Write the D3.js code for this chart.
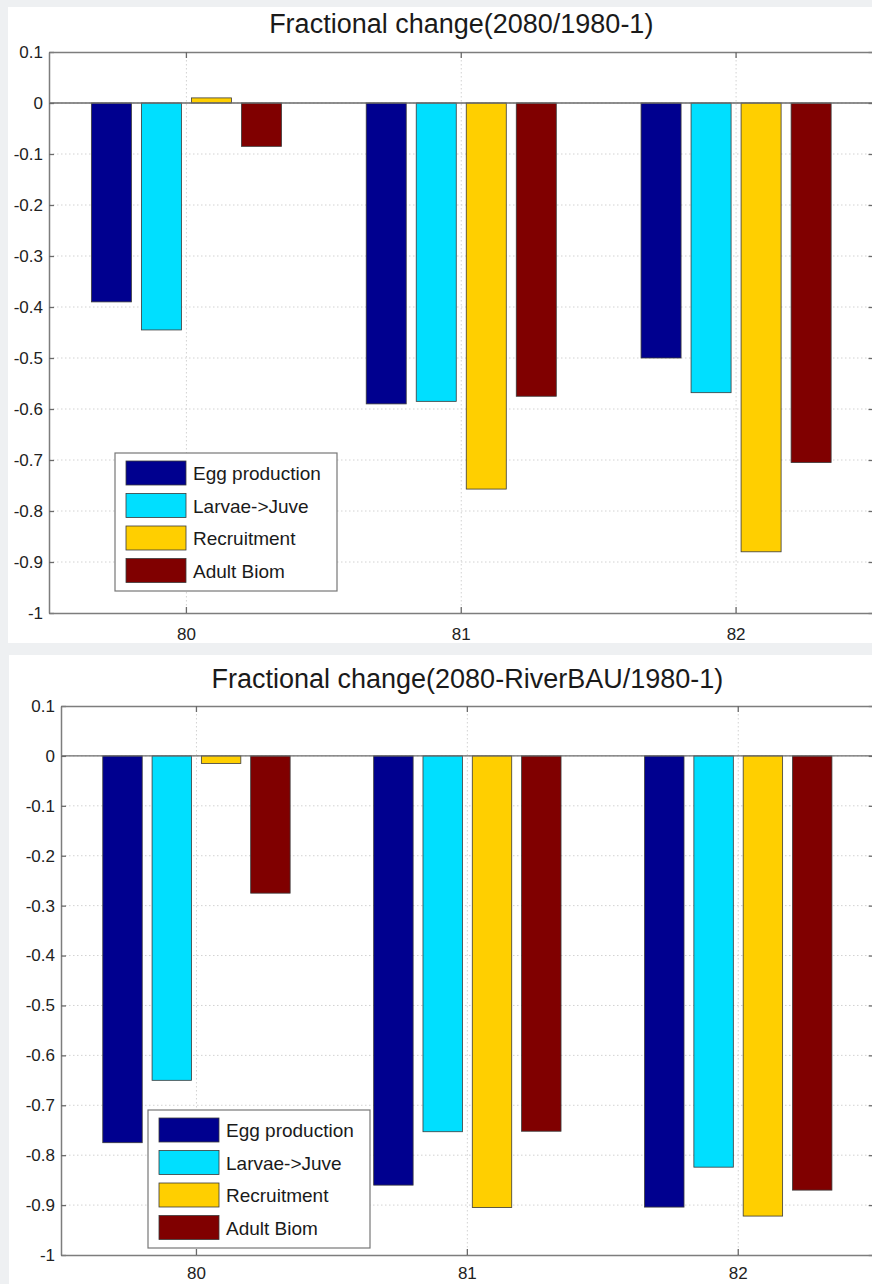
<!DOCTYPE html>
<html>
<head>
<meta charset="utf-8">
<script src="https://cdn.jsdelivr.net/npm/d3@7"></script>
<style>
  body { margin: 0; background: #eef0f2; }
  svg { display: block; font-family: "Liberation Sans", Arial, sans-serif; }
</style>
</head>
<body>
<div id="chart"></div>
<script>
// groups on the x axis and the four series
const groups = ["80", "81", "82"];
const series = ["Egg production", "Larvae->Juve", "Recruitment", "Adult Biom"];
const colors = ["#00008f", "#00dfff", "#ffcf00", "#800000"];
const yTicks = [0.1, 0, -0.1, -0.2, -0.3, -0.4, -0.5, -0.6, -0.7, -0.8, -0.9, -1];

// Fractional change(2080/1980-1)
const egg2080     = [-0.39,  -0.59,  -0.50];
const larvae2080  = [-0.445, -0.585, -0.568];
const recruit2080 = [ 0.01,  -0.757, -0.88];
const adult2080   = [-0.085, -0.575, -0.705];

// Fractional change(2080-RiverBAU/1980-1)
const eggBAU      = [-0.775, -0.86,  -0.904];
const larvaeBAU   = [-0.65,  -0.753, -0.824];
const recruitBAU  = [-0.015, -0.905, -0.922];
const adultBAU    = [-0.275, -0.752, -0.87];

const W = 872, H = 1284;
const svg = d3.select("#chart").append("svg")
  .attr("width", W).attr("height", H);

function drawPanel(o) {
  // white figure panel
  svg.append("rect")
    .attr("x", o.panel[0]).attr("y", o.panel[1])
    .attr("width", o.panel[2]).attr("height", o.panel[3])
    .attr("fill", "#fff");

  var g = svg.append("g");

  var y = d3.scaleLinear().domain([-1, 0.1]).range([o.bottom, o.top]);
  var x0 = d3.scaleBand().domain(groups).range([o.left, o.right]).padding(0);
  var bw = x0.bandwidth();
  var x1 = d3.scaleBand().domain(series)
    .range([-0.364 * bw, 0.364 * bw])
    .paddingInner(0.2).paddingOuter(0.1);

  // dotted grid
  g.append("g").selectAll("line.hg")
    .data(yTicks.filter(function(d){ return d < 0.1 && d > -1; }))
    .enter().append("line")
      .attr("x1", o.left).attr("x2", o.right)
      .attr("y1", function(d){ return y(d); })
      .attr("y2", function(d){ return y(d); })
      .attr("stroke", "#d2d2d2")
      .attr("stroke-width", 1)
      .attr("stroke-dasharray", "1.5,2.5");
  g.append("g").selectAll("line.vg")
    .data(groups)
    .enter().append("line")
      .attr("x1", function(d){ return x0(d) + bw / 2; })
      .attr("x2", function(d){ return x0(d) + bw / 2; })
      .attr("y1", o.top).attr("y2", o.bottom)
      .attr("stroke", "#d2d2d2")
      .attr("stroke-width", 1)
      .attr("stroke-dasharray", "1.5,2.5");

  // bars
  var rows = [];
  groups.forEach(function(grp, gi) {
    series.forEach(function(s, si) {
      rows.push({ group: grp, series: s, color: colors[si], value: o.values[si][gi] });
    });
  });
  g.append("g").selectAll("rect")
    .data(rows)
    .enter().append("rect")
      .attr("x", function(d){ return x0(d.group) + bw / 2 + x1(d.series); })
      .attr("width", x1.bandwidth())
      .attr("y", function(d){ return Math.min(y(d.value), y(0)); })
      .attr("height", function(d){ return Math.abs(y(d.value) - y(0)); })
      .attr("fill", function(d){ return d.color; })
      .attr("stroke", "#3a3a3a")
      .attr("stroke-width", 0.8);

  // zero baseline
  g.append("line")
    .attr("x1", o.left).attr("x2", o.right)
    .attr("y1", y(0)).attr("y2", y(0))
    .attr("stroke", "#6a6a6a").attr("stroke-width", 1.3);

  var fmt = function(d){ return String(+(+d).toFixed(1)); };

  var left = g.append("g")
    .attr("transform", "translate(" + o.left + ",0)")
    .call(d3.axisLeft(y).tickValues(yTicks).tickFormat(fmt)
      .tickSize(-5).tickSizeOuter(0).tickPadding(6));
  var right = g.append("g")
    .attr("transform", "translate(" + o.right + ",0)")
    .call(d3.axisRight(y).tickValues(yTicks).tickFormat("")
      .tickSize(-5).tickSizeOuter(0));
  var bottom = g.append("g")
    .attr("transform", "translate(0," + o.bottom + ")")
    .call(d3.axisBottom(x0).tickSize(-6).tickSizeOuter(0).tickPadding(o.xPad));
  var top = g.append("g")
    .attr("transform", "translate(0," + o.top + ")")
    .call(d3.axisTop(x0).tickSize(-6).tickSizeOuter(0).tickFormat(""));

  [left, right, bottom, top].forEach(function(a) {
    a.select(".domain").attr("stroke", "#7d7d7d").attr("stroke-width", 1.5);
    a.selectAll(".tick line").attr("stroke", "#6a6a6a").attr("stroke-width", 1.3);
    a.selectAll("text")
      .attr("fill", "#222")
      .style("font-size", "17px")
      .style("font-family", "'Liberation Sans', Arial, sans-serif");
  });

  // title
  svg.append("text")
    .attr("x", (o.left + o.right) / 2)
    .attr("y", o.titleY)
    .attr("text-anchor", "middle")
    .attr("fill", "#1a1a1a")
    .style("font-size", "27px")
    .text(o.title);

  // legend
  var lg = svg.append("g").attr("transform", "translate(" + o.legend[0] + "," + o.legend[1] + ")");
  lg.append("rect")
    .attr("width", 222).attr("height", 138)
    .attr("fill", "#fff")
    .attr("stroke", "#777").attr("stroke-width", 1.2);
  var item = lg.selectAll("g.item")
    .data(series)
    .enter().append("g")
      .attr("transform", function(d, i){ return "translate(11," + (8 + i * 32.5) + ")"; });
  item.append("rect")
    .attr("width", 60).attr("height", 24)
    .attr("fill", function(d, i){ return colors[i]; })
    .attr("stroke", "#3a3a3a").attr("stroke-width", 0.8);
  item.append("text")
    .attr("x", 67).attr("y", 19)
    .attr("fill", "#1a1a1a")
    .style("font-size", "19px")
    .text(function(d){ return d; });
}

drawPanel({
  title: "Fractional change(2080/1980-1)",
  values: [egg2080, larvae2080, recruit2080, adult2080],
  panel: [8, 7, 864, 636],
  left: 49, right: 873.5, top: 52, bottom: 613,
  xPad: 15,
  titleY: 33,
  legend: [115, 453]
});

drawPanel({
  title: "Fractional change(2080-RiverBAU/1980-1)",
  values: [eggBAU, larvaeBAU, recruitBAU, adultBAU],
  panel: [9, 655, 863, 629],
  left: 61, right: 873.7, top: 706, bottom: 1255,
  xPad: 12,
  titleY: 688,
  legend: [148, 1110]
});
</script>
</body>
</html>
